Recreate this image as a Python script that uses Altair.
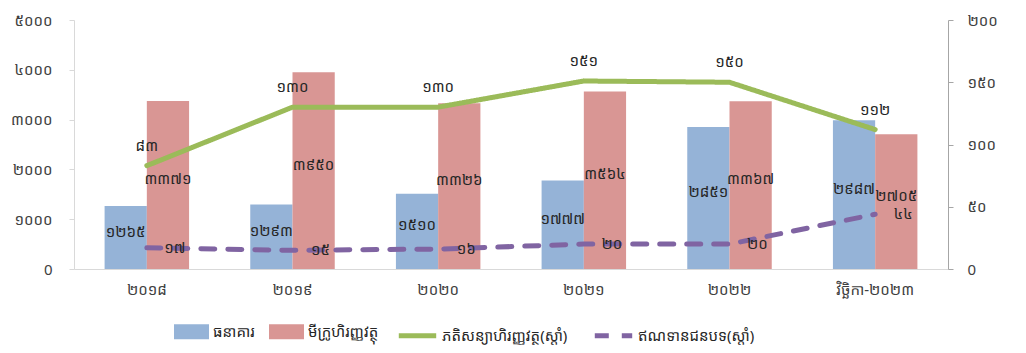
import altair as alt
import pandas as pd

years = ["២០១៨", "២០១៩", "២០២០", "២០២១", "២០២២", "វិច្ឆិកា-២០២៣"]
bank = [1265, 1293, 1510, 1777, 2851, 2987]
mfi = [3371, 3950, 3326, 3564, 3367, 2705]
leasing = [83, 130, 130, 151, 150, 112]
rural = [17, 15, 16, 20, 20, 44]
bar_series = ["ធនាគារ", "មីក្រូហិរញ្ញវត្ថុ"]
line_series = ["ភតិសន្យាហិរញ្ញវត្ថុ(ស្តាំ)", "ឥណទានជនបទ(ស្តាំ)"]

KH = str.maketrans("0123456789", "០១២៣៤៥៦៧៨៩")
FONT = "Noto Sans Khmer, Khmer OS, Khmer OS System, DejaVu Sans, sans-serif"

rows = []
for s, vals in zip(bar_series, [bank, mfi]):
    for y, v in zip(years, vals):
        rows.append({"year": y, "series": s, "value": v, "mid": v / 2, "kh": str(v).translate(KH)})
df_bars = pd.DataFrame(rows)

rows = []
for s, vals in zip(line_series, [leasing, rural]):
    for y, v in zip(years, vals):
        rows.append({"year": y, "series": s, "value": v, "kh": str(v).translate(KH)})
df_lines = pd.DataFrame(rows)

expr = "datum.label"
for d, k in zip("0123456789", "០១២៣៤៥៦៧៨៩"):
    expr = f"replace({expr}, regexp('{d}', 'g'), '{k}')"
label_expr = f"datum.value == 0 ? '0' : {expr}"

x_main = alt.X(
    "year:N", sort=years,
    scale=alt.Scale(paddingInner=0.42, paddingOuter=0.21),
    axis=alt.Axis(title=None, labelAngle=0, ticks=False, domainColor="#D9D9D9",
                  labelFontSize=15, labelPadding=13, labelColor="#404040", labelFont=FONT),
)
x_plain = alt.X("year:N", sort=years)
x_off = alt.XOffset("series:N", sort=bar_series, scale=alt.Scale(paddingInner=0, paddingOuter=0))

bar_base = alt.Chart(df_bars)
bars = bar_base.mark_bar(opacity=1).encode(
    x=x_main,
    xOffset=x_off,
    y=alt.Y("value:Q", scale=alt.Scale(domain=[0, 5000], nice=False),
            axis=alt.Axis(title=None, values=[0, 1000, 2000, 3000, 4000, 5000], format="d",
                          labelExpr=label_expr, grid=False, domainColor="#D9D9D9",
                          tickColor="#D9D9D9", tickSize=5, labelPadding=17,
                          labelFontSize=15, labelColor="#404040", labelFont=FONT)),
    color=alt.Color("series:N", sort=bar_series,
                    scale=alt.Scale(domain=bar_series, range=["#95B3D7", "#D99694"]),
                    legend=alt.Legend(title=None, orient="none", direction="horizontal",
                                      legendX=100, legendY=294,
                                      symbolType="M-1,-0.43H1V0.43H-1Z", symbolSize=1225,
                                      symbolStrokeWidth=0, symbolOpacity=1,
                                      labelFontSize=15, labelFont=FONT, labelColor="#262626",
                                      labelOffset=4, columnPadding=14)),
)
bar_text = bar_base.mark_text(fontSize=15, color="#262626", font=FONT, dy=-6).encode(
    x=x_plain, xOffset=x_off, y=alt.Y("mid:Q"), text="kh:N"
)

line_base = alt.Chart(df_lines)
line_legend = alt.Legend(title=None, orient="none", direction="horizontal",
                         legendX=322, legendY=294, symbolType="stroke",
                         symbolSize=1400, symbolStrokeWidth=5,
                         labelFontSize=15, labelFont=FONT, labelColor="#262626",
                         labelOffset=3, columnPadding=16)
lines = line_base.mark_line(strokeWidth=5, strokeCap="round").encode(
    x=x_plain,
    y=alt.Y("value:Q", scale=alt.Scale(domain=[0, 200], nice=False),
            axis=alt.Axis(title=None, orient="right", values=[0, 50, 100, 150, 200], format="d",
                          labelExpr=label_expr, grid=False, domainColor="#A6A6A6",
                          tickColor="#A6A6A6", tickSize=5, labelPadding=14,
                          labelFontSize=15, labelColor="#404040", labelFont=FONT)),
    color=alt.Color("series:N", sort=line_series,
                    scale=alt.Scale(domain=line_series, range=["#9BBB59", "#8064A2"]),
                    legend=line_legend),
    strokeDash=alt.StrokeDash("series:N", sort=line_series,
                              scale=alt.Scale(domain=line_series, range=[[1, 0], [14, 13]]),
                              legend=line_legend),
)
green_text = line_base.transform_filter(
    alt.datum.series == line_series[0]
).mark_text(fontSize=15, color="#262626", font=FONT, dy=-20).encode(
    x=x_plain, y=alt.Y("value:Q"), text="kh:N"
)
purple_text = line_base.transform_filter(
    alt.datum.series == line_series[1]
).mark_text(fontSize=15, color="#262626", font=FONT, dx=28).encode(
    x=x_plain, y=alt.Y("value:Q"), text="kh:N"
)

chart = alt.layer(
    alt.layer(bars, bar_text),
    alt.layer(lines, green_text, purple_text),
).resolve_scale(
    y="independent", color="independent", strokeDash="independent"
).properties(
    width=874, height=249,
    padding={"left": 66, "top": 12, "right": 70, "bottom": 76},
    autosize=alt.AutoSizeParams(type="none"),
).configure_view(stroke=None)

chart.save("out.html", embed_options={"renderer": "svg", "actions": False})
